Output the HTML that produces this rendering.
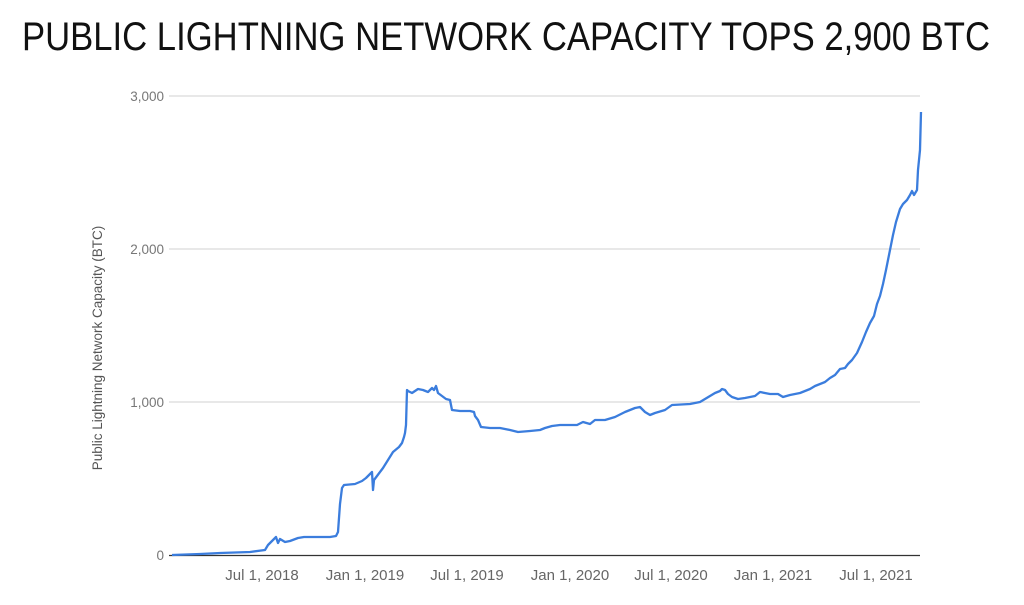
<!DOCTYPE html>
<html><head><meta charset="utf-8"><style>
body{margin:0;background:#fff;width:1024px;height:600px;overflow:hidden}
</style></head><body>
<svg width="1024" height="600" xmlns="http://www.w3.org/2000/svg">
<text x="22" y="50" font-family="Liberation Sans Narrow, Liberation Sans, sans-serif" font-size="40" textLength="968" lengthAdjust="spacingAndGlyphs" fill="#111">PUBLIC LIGHTNING NETWORK CAPACITY TOPS 2,900 BTC</text>
<g stroke="#d9d9d9" stroke-width="1.3">
<line x1="169" y1="96" x2="920" y2="96"/>
<line x1="169" y1="249" x2="920" y2="249"/>
<line x1="169" y1="402" x2="920" y2="402"/>
</g>
<line x1="169" y1="555.5" x2="920" y2="555.5" stroke="#333" stroke-width="1.3"/>
<g font-family="Liberation Sans, sans-serif" font-size="13.5" fill="#777" text-anchor="end">
<text x="164" y="101">3,000</text>
<text x="164" y="254">2,000</text>
<text x="164" y="407">1,000</text>
<text x="164" y="560">0</text>
</g>
<g font-family="Liberation Sans Narrow, Liberation Sans, sans-serif" font-size="15" fill="#666" text-anchor="middle">
<text x="262" y="580">Jul 1, 2018</text>
<text x="365" y="580">Jan 1, 2019</text>
<text x="467" y="580">Jul 1, 2019</text>
<text x="570" y="580">Jan 1, 2020</text>
<text x="671" y="580">Jul 1, 2020</text>
<text x="773" y="580">Jan 1, 2021</text>
<text x="876" y="580">Jul 1, 2021</text>
</g>
<text transform="translate(102,348) rotate(-90)" font-family="Liberation Sans, sans-serif" font-size="13.5" fill="#555" text-anchor="middle">Public Lightning Network Capacity (BTC)</text>
<polyline fill="none" stroke="#3b7ddd" stroke-width="2.3" stroke-linejoin="round" points="172,555 200,554 220,553 250,552 265,550 268,545 273,540 276,537 278,543 280,539 285,542 290,541 298,538 304,537 312,537 330,537 336,536 338,532 340,504 342,488 344,485 355,484 362,481 366,478 370,474 372,472 373,490 374,480 377,476 383,468 388,460 393,452 399,447 402,443 404,437 405,433 406,425 407,390 408,391 412,393 418,389 423,390 428,392 432,388 434,390 436,386 438,393 442,396 446,399 450,400 452,410 460,411 470,411 474,412 475,416 478,420 481,427 490,428 500,428 510,430 518,432 530,431 540,430 545,428 552,426 560,425 577,425 583,422 590,424 595,420 605,420 615,417 625,412 635,408 640,407 645,412 650,415 655,413 665,410 672,405 690,404 700,402 705,399 710,396 715,393 720,391 722,389 725,390 728,394 732,397 738,399 745,398 755,396 760,392 770,394 778,394 783,397 790,395 800,393 810,389 815,386 825,382 830,378 835,375 840,369 845,368 848,364 852,360 857,353 862,342 866,332 870,323 874,316 877,304 880,296 883,284 886,270 888,260 890,250 893,235 896,222 900,209 903,204 907,200 910,195 912,191 914,195 917,190 918,170 919,160 920,150 921,112"/>
</svg>
</body></html>
